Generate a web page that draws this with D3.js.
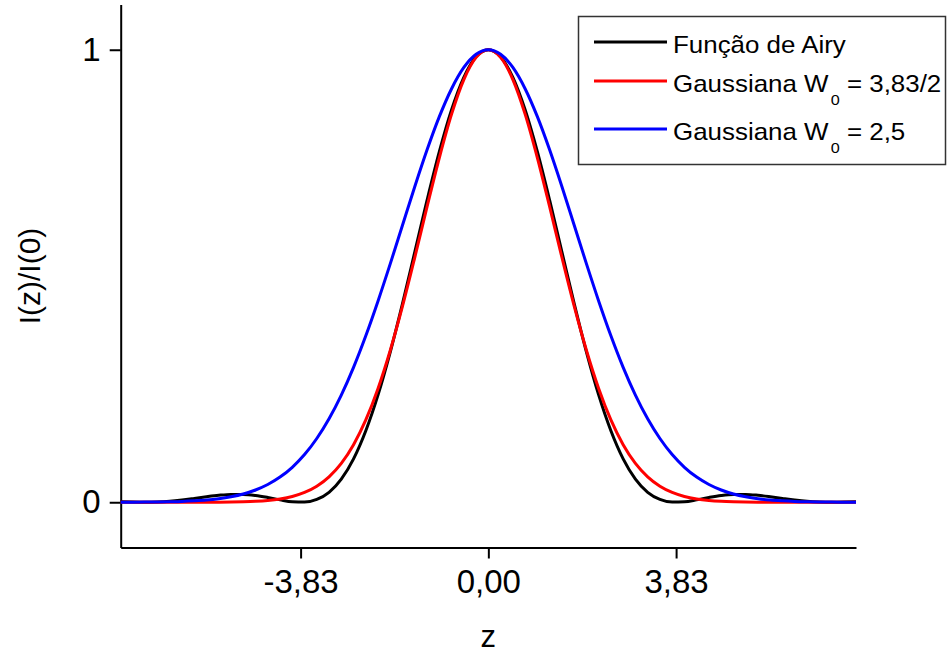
<!DOCTYPE html>
<html>
<head>
<meta charset="utf-8">
<script src="https://cdn.jsdelivr.net/npm/d3@7"></script>
<style>
  html, body { margin: 0; padding: 0; background: #fff; }
  svg { display: block; }
  text { font-family: Arial, "Liberation Sans", sans-serif; fill: #000; }
</style>
</head>
<body>
<svg id="chart" width="952" height="653"></svg>
<script>
// ---- data ----
const zValues = [-7.5,-7.25,-7,-6.75,-6.5,-6.25,-6,-5.75,-5.5,-5.25,-5,-4.75,-4.5,-4.25,-4,-3.75,-3.5,-3.25,-3,-2.75,-2.5,-2.25,-2,-1.75,-1.5,-1.25,-1,-0.75,-0.5,-0.25,0,
  0.25,0.5,0.75,1,1.25,1.5,1.75,2,2.25,2.5,2.75,3,3.25,3.5,3.75,4,4.25,4.5,4.75,5,5.25,5.5,5.75,6,6.25,6.5,6.75,7,7.25,7.5];
const airy = [0.0013,0.0004,0.0000,0.0006,0.0022,0.0050,0.0085,0.0122,0.0154,0.0173,0.0172,0.0149,0.0106,0.0054,0.0011,0.0003,0.0062,0.0219,0.0511,0.0960,0.1582,0.2374,0.3326,0.4397,0.5534,0.6675,0.7746,0.8674,0.9391,0.9845,1,
  0.9845,0.9391,0.8674,0.7746,0.6675,0.5534,0.4397,0.3326,0.2374,0.1582,0.0960,0.0511,0.0219,0.0062,0.0003,0.0011,0.0054,0.0106,0.0149,0.0172,0.0173,0.0154,0.0122,0.0085,0.0050,0.0022,0.0006,0.0000,0.0004,0.0013];
const gaussRed = [0,0,0,0,0.00001,0.00002,0.00005,0.00012,0.00026,0.00054,0.0011,0.00213,0.0040,0.00726,0.0127,0.0216,0.0354,0.0561,0.0859,0.1272,0.1819,0.2515,0.3360,0.4338,0.5414,0.6531,0.7613,0.8578,0.9341,0.9831,1,
  0.9831,0.9341,0.8578,0.7613,0.6531,0.5414,0.4338,0.3360,0.2515,0.1819,0.1272,0.0859,0.0561,0.0354,0.0216,0.0127,0.00726,0.0040,0.00213,0.0011,0.00054,0.00026,0.00012,0.00005,0.00002,0.00001,0,0,0,0];
const gaussBlue = [0.0001,0.0002,0.0004,0.0007,0.0012,0.0019,0.0032,0.0050,0.0079,0.0122,0.0183,0.0271,0.0392,0.0556,0.0773,0.1054,0.1409,0.1845,0.2369,0.2982,0.3679,0.4449,0.5273,0.6126,0.6977,0.7788,0.8521,0.9139,0.9608,0.9900,1,
  0.9900,0.9608,0.9139,0.8521,0.7788,0.6977,0.6126,0.5273,0.4449,0.3679,0.2982,0.2369,0.1845,0.1409,0.1054,0.0773,0.0556,0.0392,0.0271,0.0183,0.0122,0.0079,0.0050,0.0032,0.0019,0.0012,0.0007,0.0004,0.0002,0.0001];
const seriesNames = ["Função de Airy", "Gaussiana W", "Gaussiana W"];
const seriesSubs = ["", "0", "0"];
const seriesTails = ["", " = 3,83/2", " = 2,5"];
const seriesColors = ["#000000", "#ff0000", "#0000ff"];
const xTickValues = [-3.83, 0, 3.83];
const xTickLabels = ["-3,83", "0,00", "3,83"];
const yTickValues = [0, 1];
const yTickLabels = ["0", "1"];
const xTitle = "z";
const yTitle = "I(z)/I(0)";

// ---- chart ----
const svg = d3.select("#chart");
const x = d3.scaleLinear().domain([-7.5, 7.5]).range([120.7, 856]);
const y = d3.scaleLinear().domain([-0.1, 1.1]).range([547.5, 4.5]);

const xAxis = d3.axisBottom(x).tickValues(xTickValues)
  .tickFormat((d, i) => xTickLabels[i]).tickSize(11).tickSizeOuter(0).tickPadding(11);
const yAxis = d3.axisLeft(y).tickValues(yTickValues)
  .tickFormat((d, i) => yTickLabels[i]).tickSize(11).tickSizeOuter(0).tickPadding(9);

const gx = svg.append("g").attr("transform", `translate(0,${y(-0.1)})`).call(xAxis);
const gy = svg.append("g").attr("transform", `translate(${x(-7.5)},0)`).call(yAxis);
[gx, gy].forEach(g => {
  g.select(".domain").attr("stroke", "#000").attr("stroke-width", 2);
  g.selectAll(".tick line").attr("stroke", "#000").attr("stroke-width", 2);
  g.selectAll(".tick text").attr("font-size", 33).attr("font-family", "Arial, 'Liberation Sans', sans-serif").attr("fill", "#000");
});

const series = [airy, gaussRed, gaussBlue];
const line = d3.line().x(d => x(d[0])).y(d => y(d[1])).curve(d3.curveMonotoneX);
series.forEach((vals, k) => {
  svg.append("path")
    .datum(zValues.map((z, i) => [z, vals[i]]))
    .attr("fill", "none")
    .attr("stroke", seriesColors[k])
    .attr("stroke-width", 3)
    .attr("stroke-linejoin", "round")
    .attr("d", line);
});

// axis titles
svg.append("text").attr("x", x(0)).attr("y", 647).attr("text-anchor", "middle")
  .attr("font-size", 31).text(xTitle);
svg.append("text").attr("transform", `translate(40,${y(0.5)}) rotate(-90)`)
  .attr("text-anchor", "middle").attr("font-size", 30).text(yTitle);

// legend
const lg = svg.append("g");
lg.append("rect").attr("x", 578.5).attr("y", 16.5).attr("width", 367).attr("height", 148)
  .attr("fill", "#fff").attr("stroke", "#333").attr("stroke-width", 1.5);
const rowY = [42, 81, 129];
seriesNames.forEach((name, k) => {
  lg.append("line").attr("x1", 594).attr("x2", 667).attr("y1", rowY[k]).attr("y2", rowY[k])
    .attr("stroke", seriesColors[k]).attr("stroke-width", 3);
  const t = lg.append("text")
    .attr("transform", `translate(673,${rowY[k] + 11}) scale(1.08,1)`)
    .attr("font-size", 24);
  t.append("tspan").text(name);
  if (seriesSubs[k]) {
    t.append("tspan").attr("font-size", 15).attr("dx", 2).attr("dy", 13).text(seriesSubs[k]);
    t.append("tspan").attr("dy", -13).text(seriesTails[k]);
  }
});
</script>
</body>
</html>
